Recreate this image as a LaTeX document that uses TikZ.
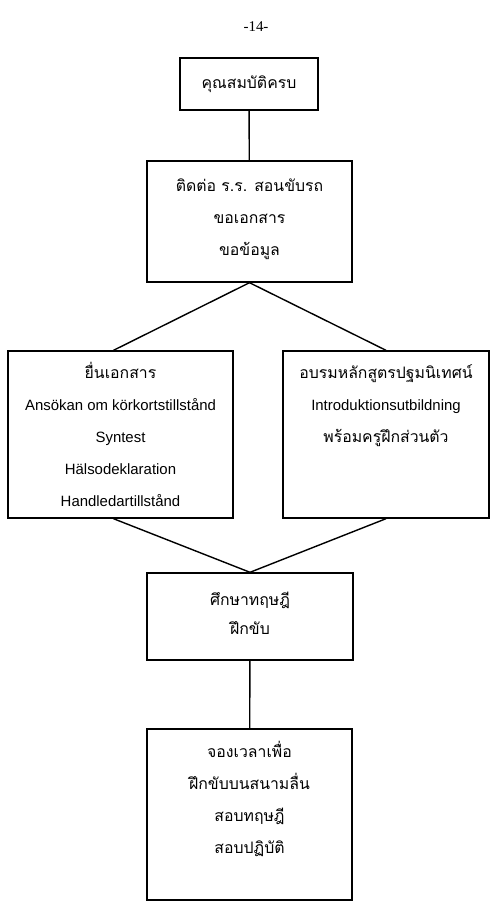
\documentclass[tikz,border=0pt]{standalone}
\usepackage{fontspec}
\setmainfont{Liberation Sans}
\newfontfamily\thaifont[Script=Thai]{Loma}
\newfontfamily\pagefont{Liberation Serif}
\newcommand\thaitext{\thaifont\fontsize{9}{11}\selectfont}
\usetikzlibrary{positioning}

\begin{document}
\begin{tikzpicture}[
    x=0.02cm, y=-0.02cm,
    box/.style={draw, line width=0.8pt, inner sep=0},
    link/.style={line width=0.8pt},
    txt/.style={font=\fontsize{8.5}{10}\selectfont, inner sep=0, anchor=base},
    thai/.style={txt, font=\thaitext}
]
  \useasboundingbox (0,0) rectangle (498,910);

  % Page number
  \node[font=\pagefont\fontsize{8.5}{10}\selectfont] (page) at (256,27) {-14-};

  % Boxes
  \node[box, minimum width=2.76cm, minimum height=1.04cm] (B1) at (249,84) {};
  \node[box, minimum width=4.10cm, minimum height=2.42cm] (B2) at (249.5,221.5) {};
  \node[box, minimum width=4.50cm, minimum height=3.34cm] (L) at (120.5,434.5) {};
  \node[box, minimum width=4.12cm, minimum height=3.34cm] (R) at (386,434.5) {};
  \node[box, minimum width=4.12cm, minimum height=1.74cm] (B3) at (250,616.5) {};
  \node[box, minimum width=4.10cm, minimum height=3.42cm] (B4) at (249.5,814.5) {};

  % Texts
  \node[thai] (B1t) at (249,88) {คุณสมบัติครบ};
  \foreach \t [count=\i] in {ติดต่อ ร.ร. สอนขับรถ, ขอเอกสาร, ขอข้อมูล}
    \node[thai] (B2t\i) at (249.5,{191+32*(\i-1)}) {\t};
  \foreach \t [count=\i] in {{\thaitext ยื่นเอกสาร}, Ansökan om körkortstillstånd, Syntest, Hälsodeklaration, Handledartillstånd}
    \node[txt] (Lt\i) at (120.5,{378+32*(\i-1)}) {\t};
  \foreach \t [count=\i] in {{\thaitext อบรมหลักสูตรปฐมนิเทศน์}, Introduktionsutbildning, {\thaitext พร้อมครูฝึกส่วนตัว}}
    \node[txt] (Rt\i) at (386,{378+32*(\i-1)}) {\t};
  \foreach \t [count=\i] in {ศึกษาทฤษฎี, ฝึกขับ}
    \node[thai] (B3t\i) at (250,{605+29*(\i-1)}) {\t};
  \foreach \t [count=\i] in {จองเวลาเพื่อ, ฝึกขับบนสนามลื่น, สอบทฤษฎี, สอบปฏิบัติ}
    \node[thai] (B4t\i) at (249.5,{757+32*(\i-1)}) {\t};

  % Connections
  \draw[link] (B1) -- (B2);
  \draw[link] (B2.south) -- ([xshift=-0.14cm]L.north);
  \draw[link] ([xshift=-0.14cm]L.south) -- (B3.north);
  \draw[link] (B2.south) -- (R.north);
  \draw[link] (R.south) -- (B3.north);
  \draw[link] (B3) -- (B4);
\end{tikzpicture}
\end{document}
